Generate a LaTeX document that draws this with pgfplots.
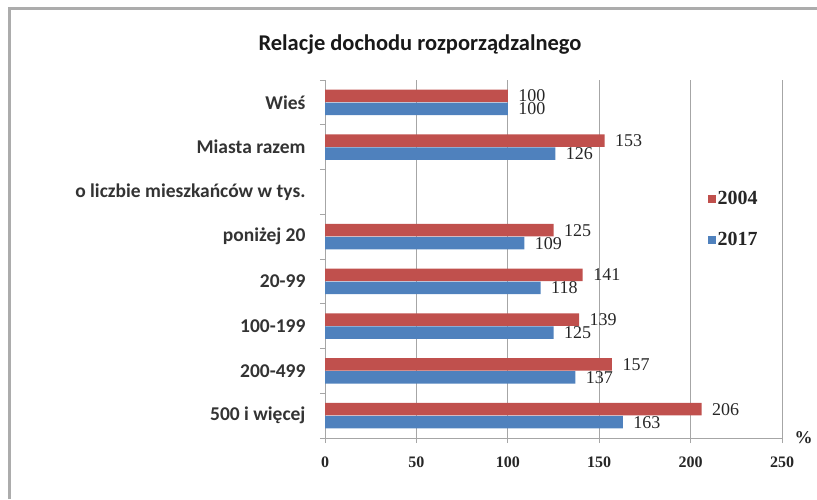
\documentclass[border=0pt]{standalone}
\usepackage{pgfplots}
\pgfplotsset{compat=1.18}
\usepackage{fontspec}
\setmainfont{Liberation Serif}
\newfontfamily\calfont{Carlito}
\definecolor{red04}{HTML}{C0504D}
\definecolor{blue17}{HTML}{4F81BD}
\definecolor{gridg}{HTML}{A6A6A6}
\pgfplotstableread{
y v2004 v2017
0 100 100
1 153 126
3 125 109
4 141 118
5 139 125
6 157 137
7 206 163
}\datatable
\begin{document}
\begin{tikzpicture}
\path[use as bounding box] (0pt,0pt) rectangle (817pt,499pt);
\draw[line width=3pt, color=gray!65] (9pt,0pt) -- (9pt,490pt) -- (817pt,490pt);
\node[font=\calfont\bfseries\fontsize{22.5}{26}\selectfont, text=black!90] at (420pt,454pt) {Relacje dochodu rozporządzalnego};
\begin{axis}[
 at={(325pt,61pt)}, anchor=south west,
 scale only axis, width=457pt, height=358pt,
 xbar, bar width=12.5pt,
 xmin=0, xmax=250, ymin=-0.5, ymax=7.5, y dir=reverse,
 axis x line=bottom, axis y line=left,
 axis line style={-, draw=gridg, line width=0.8pt},
 tick align=outside,
 major tick length=5pt,
 tick style={draw=gridg, line width=0.8pt},
 xtick={0,50,...,250},
 ytick={-0.5,0.5,...,7.5},
 yticklabels={},
 extra y ticks={0,...,7},
 extra y tick labels={Wieś, Miasta razem, o liczbie mieszkańców w tys., poniżej 20\ , 20-99, 100-199, 200-499, 500 i więcej},
 extra y tick style={major tick length=0pt, yticklabel style={font=\calfont\bfseries\fontsize{19.5}{22}\selectfont, text=black!80}},
 yticklabel style={xshift=-16pt},
 xticklabel style={font=\bfseries\fontsize{16}{18}\selectfont, yshift=-10pt, text=black!85},
 /pgf/number format/assume math mode=true,
 xmajorgrids=true,
 grid style={draw=gridg, line width=0.8pt},
 nodes near coords,
 every node near coord/.append style={font=\fontsize{18}{20}\selectfont, xshift=7pt, text=black!85},
 legend style={at={(0.83,0.70)}, anchor=north west, draw=none, fill=none,
   font=\bfseries\fontsize{20}{22}\selectfont, row sep=22pt, text=black!85},
 legend cell align=left,
 legend image code/.code={\path[#1] (0pt,-4pt) rectangle (8pt,4pt);},
 clip=false,
]
\addplot[fill=red04, draw=none, bar shift=6.5pt] table[x=v2004, y=y] {\datatable};
\addplot[fill=blue17, draw=none, bar shift=-6.5pt] table[x=v2017, y=y] {\datatable};
\legend{2004, 2017}
\node[font=\bfseries\fontsize{18}{20}\selectfont, anchor=west, text=black!85] at (rel axis cs:1.02,0.0) {\%};
\end{axis}
\end{tikzpicture}
\end{document}
